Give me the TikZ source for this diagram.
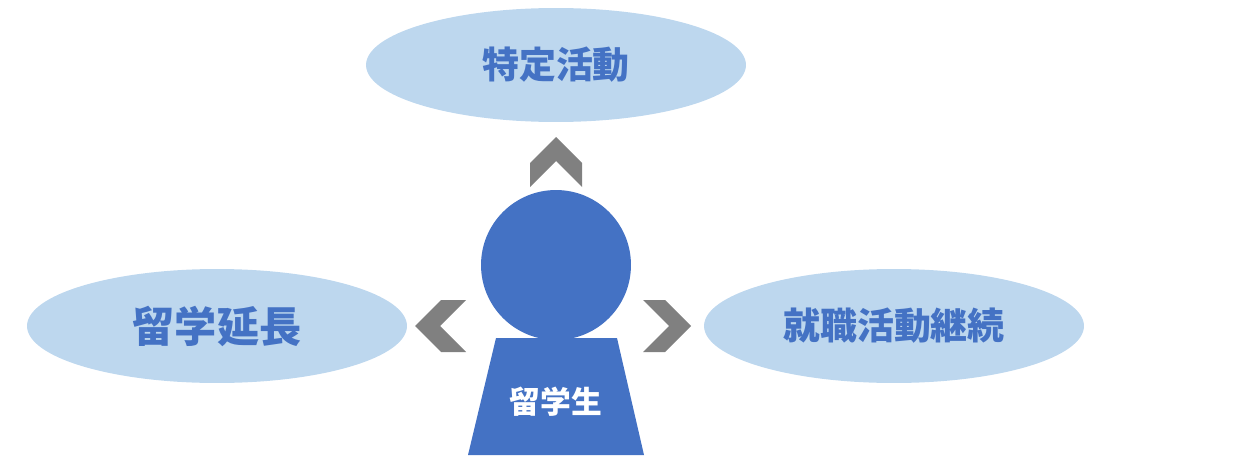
\documentclass[tikz,border=0pt]{standalone}
\usepackage{fontspec}
\newfontfamily\cjk{Noto Sans CJK JP}
\usetikzlibrary{shapes.geometric}
\definecolor{paleblue}{HTML}{BDD7EE}
\definecolor{darkblue}{HTML}{4472C4}
\definecolor{chevgray}{HTML}{808080}
\tikzset{
  option/.style={ellipse, fill=paleblue, minimum width=7.6cm, minimum height=2.28cm,
    text=darkblue, font=\cjk\bfseries\fontsize{21}{25}\selectfont},
  chevron/.style={fill=chevgray}
}

\begin{document}
\begin{tikzpicture}[x=0.02cm,y=-0.02cm]
    \useasboundingbox (0,0) rectangle (1238,470);

    \node[option] (katsudo) at (556,65) {特定活動};
    \node[option, font=\cjk\bfseries\fontsize{24}{28}\selectfont] (encho) at (217,326) {留学延長};
    \node[option] (keizoku) at (894,326) {就職活動継続};

    % student figure
    \node[circle, fill=darkblue, minimum size=3cm, inner sep=0pt] (head) at (556,265) {};
    \fill[darkblue] (496,338) -- (617,338) -- (644,455) -- (468,455) -- cycle;
    \node[text=white, font=\cjk\bfseries\fontsize{17.5}{20}\selectfont] (ryugakusei) at (556,402) {留学生};

    % chevrons
    \fill[chevron] (530,187) -- (530,163) -- (556,137) -- (582,163) -- (582,187) -- (556,161) -- cycle;
    \fill[chevron] (415,326) -- (441,300) -- (466,300) -- (440,326) -- (466,352) -- (441,352) -- cycle;
    \fill[chevron] (643,300) -- (665,300) -- (691,326) -- (665,352) -- (643,352) -- (669,326) -- cycle;
\end{tikzpicture}
\end{document}
